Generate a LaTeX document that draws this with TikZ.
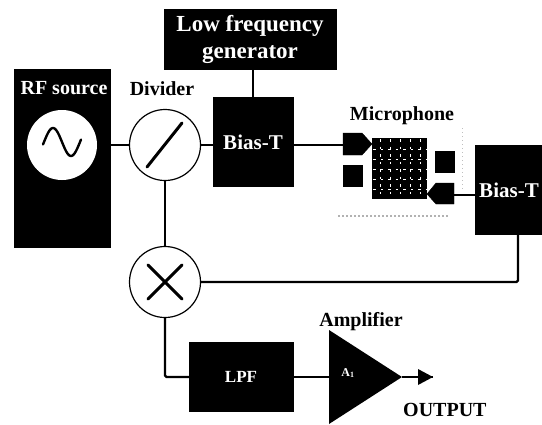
\documentclass[tikz,border=0pt]{standalone}
\usepackage{fontspec}
\setmainfont{Liberation Serif}
\begin{document}
\begin{tikzpicture}[x=1pt,y=-1pt,
 blk/.style={draw=black,fill=black,text=white,inner sep=0pt,font=\fontsize{21}{27}\selectfont\bfseries,align=center},
 rnd/.style={circle,draw=black,line width=1.2pt,fill=white,inner sep=0pt,minimum size=71pt},
 lab/.style={inner sep=0pt,font=\fontsize{20}{24}\selectfont\bfseries},
 wire/.style={line width=2.4pt,black},
 sym/.style={line width=3pt,line cap=round},
 pad/.style={draw=black,fill=black,inner sep=0pt}]
\useasboundingbox (0,0) rectangle (542,424);
% blocks
\node[blk,minimum width=172pt,minimum height=60pt,font=\fontsize{23}{27}\selectfont\bfseries] (gen) at (250,39) {Low frequency\\generator};
\node[blk,minimum width=96pt,minimum height=178pt] (rfbox) at (62,158) {};
\node[text=white,inner sep=0pt,font=\fontsize{20}{24}\selectfont\bfseries] (rflab) at (64,88) {RF source};
\node[circle,fill=white,inner sep=0pt,minimum size=70pt] (rfc) at (62,145) {};
\node[rnd] (div) at (165,145) {};
\node[blk,minimum width=80pt,minimum height=89pt] (biasa) at (253,142) {Bias-T};
\node[blk,minimum width=67pt,minimum height=89pt] (biasb) at (509,190) {Bias-T};
\node[rnd] (mix) at (165,282) {};
\node[blk,minimum width=104pt,minimum height=69pt,font=\fontsize{17}{20}\selectfont\bfseries] (lpf) at (241,377) {LPF};
\coordinate (trtop) at (329,330);
\coordinate (trbot) at (329,424);
\coordinate (trtip) at (402,377);
\coordinate (trin) at (329,377);
\fill[black] (trtop) -- (trtip) -- (trbot) -- cycle;
\node[text=white,inner sep=0pt,font=\fontsize{12}{14}\selectfont\bfseries] (alab) at (348,373) {A\textsubscript{1}};
\coordinate (outp) at (433,377);
% symbols
\draw[sym,line width=2.4pt] plot[domain=-19:19,samples=50,smooth] ({62+\x},{142+14*sin(10*\x)});
\draw[sym] ([shift={(-18,22)}]div.center) -- ([shift={(17,-22)}]div.center);
\draw[sym] ([shift={(-17,-17)}]mix.center) -- ([shift={(17,17)}]mix.center);
\draw[sym] ([shift={(-17,17)}]mix.center) -- ([shift={(17,-17)}]mix.center);
% microphone
\draw[pad] (343,133) -- (362,133) -- (372,144) -- (362,155) -- (343,155) -- cycle;
\coordinate (pin) at (343,145);
\node[pad,minimum width=19pt,minimum height=21pt] (padl) at (352.5,175.5) {};
\node[pad,minimum width=19pt,minimum height=21pt] (padr) at (444.5,161.5) {};
\fill[black] (372,138) rectangle (427,199);
\foreach \i in {0,1,2,3,4}{
  \draw[white,line width=1pt,dash pattern=on 2.5pt off 5pt] (373,{149+\i*10}) -- (426,{149+\i*10});
  \draw[white,line width=1pt,dash pattern=on 2.5pt off 5pt] ({380+\i*10},139) -- ({380+\i*10},198);
}
\draw[pad] (454,183) -- (436,183) -- (427,194) -- (436,204) -- (454,204) -- cycle;
\coordinate (pout) at (454,195);
% faint illegible marks of the original
\draw[black!30,line width=1.6pt,dash pattern=on 1.5pt off 2.5pt] (338,216) -- (449,216);
\draw[black!25,line width=.7pt,dash pattern=on 1pt off 3pt] (462,128) -- (462,190);
% wires
\draw[wire] (rfbox.east|-div) -- (div.west);
\draw[wire] (div.east) -- (biasa.west|-div);
\draw[wire] (gen.south-|biasa) -- (biasa.north);
\draw[wire] (biasa.east|-pin) -- (pin);
\draw[wire] (pout) -- (biasb.west|-pout);
\draw[wire] (div.south) -- (mix.north);
\coordinate (bdrop) at (518,235);
\draw[wire,rounded corners=1.5pt] (mix.east) -- (518,282) -- (bdrop);
\draw[wire,rounded corners=1.5pt] (mix.south) -- (165,377) -- (lpf.west);
\draw[wire] (lpf.east) -- (trin);
\draw[wire] (trtip) -- (outp);
\fill[black] (outp) -- (418,369) -- (418,385) -- cycle;
% labels
\node[lab] (ldiv) at (162,89) {Divider};
\node[lab] (lmic) at (402,116) {Microphone};
\node[lab] (lamp) at (361,322) {Amplifier};
\node[lab,anchor=west] (lout) at (403,410) {OUTPUT};
\end{tikzpicture}
\end{document}
